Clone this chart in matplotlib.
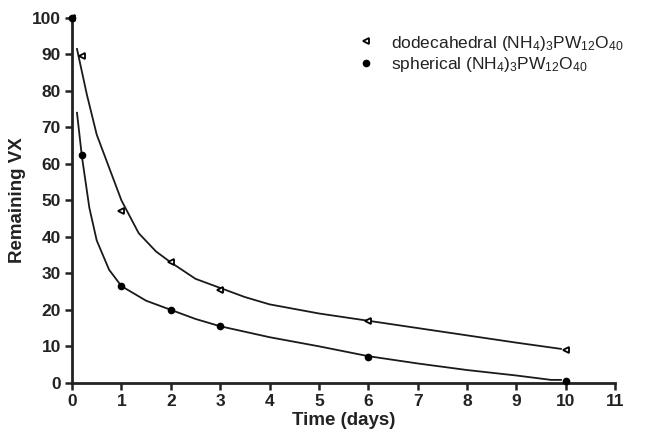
import matplotlib
matplotlib.use("Agg")
import matplotlib.pyplot as plt

# measured points
days = [0, 0.2, 1, 2, 3, 6, 10]
dodeca_vx = [100, 89.5, 47, 33, 25.5, 17, 9]
sphere_vx = [100, 62.5, 26.5, 20, 15.5, 7, 0.5]

# fitted curves
dodeca_fit_x = [0.1, 0.3, 0.5, 0.75, 1.0, 1.35, 1.7, 2.0, 2.5, 3.0, 3.5, 4.0, 5.0, 6.0, 7.0, 8.0, 9.0, 9.9]
dodeca_fit_y = [91.5, 79, 68, 59, 50, 41, 36, 33, 28.5, 26, 23.5, 21.5, 19, 17, 15, 13, 11, 9.3]
sphere_fit_x = [0.1, 0.2, 0.35, 0.5, 0.75, 1.0, 1.5, 2.0, 2.5, 3.0, 4.0, 5.0, 6.0, 7.0, 8.0, 9.0, 9.7, 9.9]
sphere_fit_y = [74, 62, 48, 39, 31, 26.5, 22.5, 20, 17.5, 15.5, 12.5, 10, 7.3, 5.3, 3.5, 2, 0.8, 0.8]

x_ticks = list(range(0, 12))
y_ticks = list(range(0, 101, 10))

plt.rcParams["font.family"] = ["Liberation Sans", "DejaVu Sans"]
plt.rcParams["mathtext.default"] = "regular"

fig = plt.figure(figsize=(6.49, 4.37), dpi=100, facecolor="white")
ax = fig.add_axes([0.111, 0.124, 0.837, 0.835])

ax.plot(dodeca_fit_x, dodeca_fit_y, color="#1a1a1a", linewidth=1.3, zorder=2)
ax.plot(sphere_fit_x, sphere_fit_y, color="#1a1a1a", linewidth=1.3, zorder=2)

ax.plot(days, dodeca_vx, linestyle="none", marker="<", markersize=5,
        markerfacecolor="white", markeredgecolor="black", markeredgewidth=1.3,
        label=r"dodecahedral (NH$_4$)$_3$PW$_{12}$O$_{40}$", zorder=3)
ax.plot(days, sphere_vx, linestyle="none", marker="o", markersize=4.5,
        color="black", label=r"spherical (NH$_4$)$_3$PW$_{12}$O$_{40}$", zorder=4)

ax.set_xlim(0, 11)
ax.set_ylim(0, 100)
ax.set_xticks(x_ticks)
ax.set_yticks(y_ticks)
for ln in ax.lines:
    ln.set_clip_on(False)

for side in ("top", "right"):
    ax.spines[side].set_visible(False)
for side in ("left", "bottom"):
    ax.spines[side].set_linewidth(2)
    ax.spines[side].set_color("#222222")

ax.tick_params(direction="out", length=5, width=1.8, color="#222222",
               labelsize=12.5, labelcolor="#222222", pad=3)
for lab in ax.get_xticklabels() + ax.get_yticklabels():
    lab.set_fontweight("bold")

ax.set_xlabel("Time (days)", fontsize=13.5, fontweight="bold", color="#222222", labelpad=2)
ax.set_ylabel("Remaining VX", fontsize=13.5, fontweight="bold", color="#222222", labelpad=4)

ax.legend(loc="upper left", bbox_to_anchor=(0.5, 1.0),
          frameon=False, fontsize=12.5, handlelength=0.8, handletextpad=1.0,
          labelspacing=0.15, labelcolor="#222222")

fig.savefig("out.png", dpi=100)
